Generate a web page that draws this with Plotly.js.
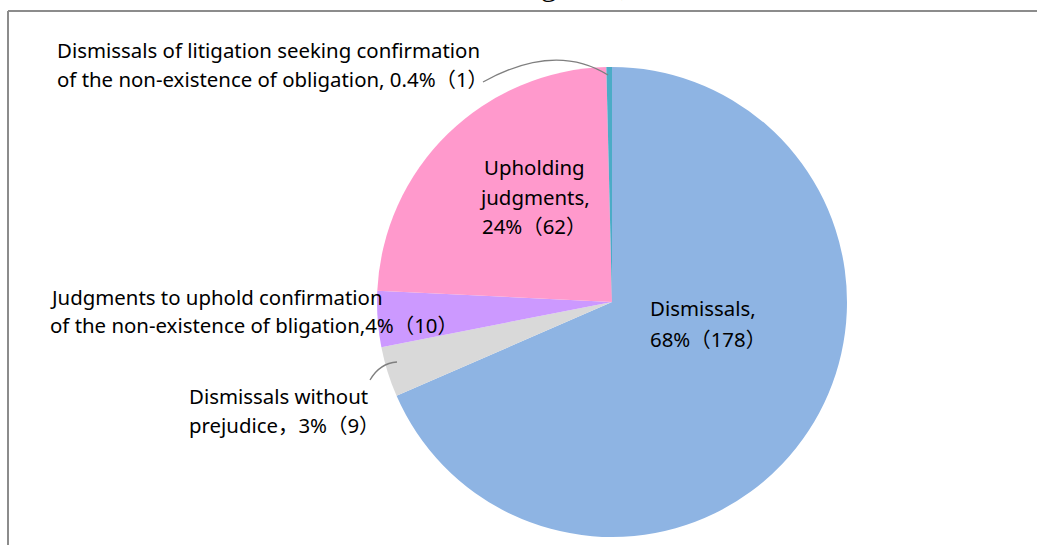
<!DOCTYPE html>
<html>
<head>
<meta charset="utf-8">
<script src="https://cdn.plot.ly/plotly-3.0.1.min.js"></script>
<style>html,body{margin:0;padding:0;background:#fff;}#chart{width:1037px;height:545px;}</style>
</head>
<body>
<div id="chart"></div>
<script>
// ---- data ----
const categories = [
  'Dismissals',
  'Dismissals without prejudice',
  'Judgments to uphold confirmation of the non-existence of bligation',
  'Upholding judgments',
  'Dismissals of litigation seeking confirmation of the non-existence of obligation'
];
const counts = [178, 9, 10, 62, 1];
const percentLabels = ['68%', '3%', '4%', '24%', '0.4%'];
const sliceColors = ['#8EB4E3', '#D9D9D9', '#CC99FF', '#FF99CC', '#4BACC6'];
// label lines as printed on the chart
const labelLines = [
  ['Dismissals,', '68%（178）'],
  ['Dismissals without', 'prejudice，3%（9）'],
  ['Judgments to uphold confirmation', 'of the non-existence of bligation,4%（10）'],
  ['Upholding', 'judgments,', '24%（62）'],
  ['Dismissals of litigation seeking confirmation', 'of the non-existence of obligation, 0.4%（1）']
];
const titleText = 'Breakdown of Judgment,';

// ---- layout helpers (pixel positions of labels) ----
const W = 1037, H = 545;
const labelPos = [
  {x: 648, y: [308, 339], anchor: 'left'},
  {x: 187, y: [396, 425], anchor: 'left'},
  {x: 48,  y: [297, 325], anchor: 'left'},
  {x: 534, y: [167, 197, 226], anchor: 'center'},
  {x: 55,  y: [50, 79], anchor: 'left'}
];
const FONT = {family: '"Noto Sans", "Noto Sans CJK JP", sans-serif', size: 20.4, color: '#000'};

const annotations = [];
labelLines.forEach((lines, i) => {
  lines.forEach((t, j) => {
    annotations.push({
      xref: 'x', yref: 'y', x: labelPos[i].x, y: labelPos[i].y[j],
      text: t, showarrow: false, xanchor: labelPos[i].anchor, yanchor: 'middle',
      font: FONT
    });
  });
});
annotations.push({
  xref: 'x', yref: 'y', x: 631, y: 4.5, text: titleText, showarrow: false,
  xanchor: 'right', yanchor: 'bottom',
  font: {family: '"Liberation Serif", serif', size: 32, color: '#000'}
});

const cx = 612, cy = 302, R = 235;

const data = [{
  type: 'pie',
  values: counts,
  labels: categories,
  marker: {colors: sliceColors, line: {width: 0}},
  sort: false,
  direction: 'clockwise',
  rotation: 0,
  textinfo: 'none',
  hoverinfo: 'label+value+percent',
  showlegend: false,
  domain: {x: [(cx - R) / W, (cx + R) / W], y: [(H - cy - R) / H, (H - cy + R) / H]}
}];

const layout = {
  width: W, height: H,
  margin: {l: 0, r: 0, t: 0, b: 0},
  paper_bgcolor: '#fff', plot_bgcolor: 'rgba(0,0,0,0)',
  xaxis: {range: [0, W], visible: false, fixedrange: true},
  yaxis: {range: [H, 0], visible: false, fixedrange: true},
  showlegend: false,
  annotations: annotations,
  shapes: [
    {type: 'line', xref: 'x', yref: 'y', x0: 8, y0: 11, x1: W + 5, y1: 11, line: {color: '#8C8C8C', width: 2}, layer: 'below'},
    {type: 'line', xref: 'x', yref: 'y', x0: 8, y0: 11, x1: 8, y1: H + 5, line: {color: '#8C8C8C', width: 2}, layer: 'below'},
    {type: 'path', xref: 'x', yref: 'y', path: 'M 483,82 Q 555,42 608,75', line: {color: '#7F7F7F', width: 1.3}},
    {type: 'path', xref: 'x', yref: 'y', path: 'M 370,380 Q 380,363 397,362', line: {color: '#7F7F7F', width: 1.3}}
  ]
};

Plotly.newPlot('chart', data, layout, {displayModeBar: false, staticPlot: true});
</script>
</body>
</html>
